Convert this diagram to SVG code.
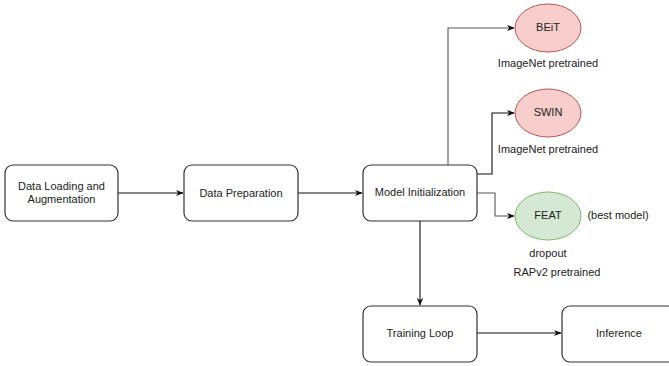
<svg xmlns="http://www.w3.org/2000/svg" width="669" height="366" viewBox="0 0 669 366">
<style>
text{font-family:"Liberation Sans",Arial,sans-serif;font-size:11px;fill:#222;text-anchor:middle;dominant-baseline:central}
.box{fill:#fff;stroke:#333;stroke-width:1.2}
.red{fill:#f8cecc;stroke:#b85450;stroke-width:1}
.green{fill:#d5e8d4;stroke:#82b366;stroke-width:1}
.c{fill:none;stroke:#111;stroke-width:1.1}
.g{stroke:#555}
</style>
<defs>
<marker id="a" viewBox="0 0 10 10" refX="9" refY="5" markerWidth="8" markerHeight="8" markerUnits="userSpaceOnUse" orient="auto">
<path d="M0,1 L10,5 L0,9 L3,5 Z" fill="#111"/>
</marker>
</defs>
<rect width="669" height="366" fill="#fff"/>
<g id="connectors">
<path class="c" d="M118,193 H183" marker-end="url(#a)"/>
<path class="c" d="M298,193 H362" marker-end="url(#a)"/>
<path class="c g" d="M448,165 V28 H514" marker-end="url(#a)"/>
<path class="c" d="M477,174 H492 V113 H514" marker-end="url(#a)"/>
<path class="c g" d="M477,193 H495 V216 H514" marker-end="url(#a)"/>
<path class="c" d="M420,221 V305" marker-end="url(#a)"/>
<path class="c" d="M477,333 H561" marker-end="url(#a)"/>
</g>
<g id="data-loading"><rect class="box" x="5" y="165" width="113" height="56" rx="8"/><text x="61.5" y="186">Data Loading and</text><text x="61.5" y="199">Augmentation</text></g>
<g id="data-preparation"><rect class="box" x="184" y="165" width="114" height="56" rx="8"/><text x="241" y="193">Data Preparation</text></g>
<g id="model-init"><rect class="box" x="363" y="165" width="114" height="56" rx="8"/><text x="420" y="192">Model Initialization</text></g>
<g id="training-loop"><rect class="box" x="363" y="306" width="114" height="56" rx="8"/><text x="420" y="333">Training Loop</text></g>
<g id="inference"><rect class="box" x="562" y="306" width="114" height="56" rx="8"/><text x="619" y="333">Inference</text></g>
<g id="beit"><ellipse class="red" cx="548" cy="28" rx="33" ry="24"/><text x="548" y="27">BEiT</text><text x="548" y="63">ImageNet pretrained</text></g>
<g id="swin"><ellipse class="red" cx="548" cy="113" rx="33" ry="24"/><text x="548" y="112">SWIN</text><text x="548" y="149">ImageNet pretrained</text></g>
<g id="feat"><ellipse class="green" cx="548" cy="216" rx="33" ry="24"/><text x="548" y="215">FEAT</text><text x="618" y="215">(best model)</text><text x="548" y="253">dropout</text><text x="557" y="272">RAPv2 pretrained</text></g>
</svg>
